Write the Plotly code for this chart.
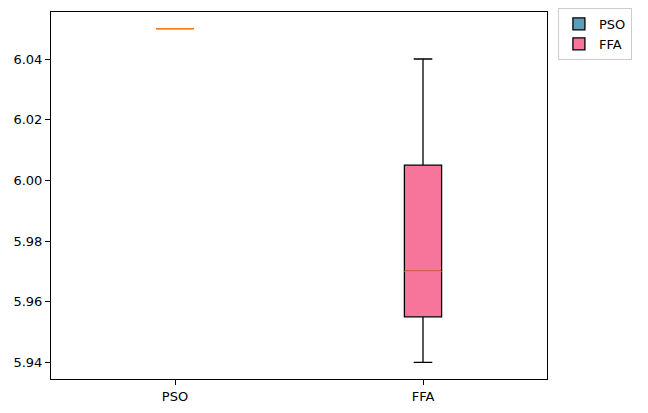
import plotly.graph_objects as go

# %% data
algorithms = ['PSO', 'FFA']
positions = [1, 2]
lower = [6.05, 5.94]
q1 = [6.05, 5.955]
median = [6.05, 5.97]
q3 = [6.05, 6.005]
upper = [6.05, 6.04]
colors = ['#5a9ebb', '#f7759a']
y_ticks = [5.94, 5.96, 5.98, 6.00, 6.02, 6.04]

box_width = 0.15

# %% figure
fig = go.Figure()
for i, name in enumerate(algorithms):
    fig.add_trace(go.Box(
        x=[positions[i]], name=name,
        lowerfence=[lower[i]], q1=[q1[i]], median=[median[i]],
        q3=[q3[i]], upperfence=[upper[i]],
        width=box_width, whiskerwidth=0.5,
        fillcolor=colors[i], line=dict(color='black', width=1.3),
        boxpoints=False, hoverinfo='skip',
    ))
for i, name in enumerate(algorithms):
    fig.add_trace(go.Scatter(
        x=[positions[i] - box_width / 2, positions[i] + box_width / 2],
        y=[median[i], median[i]], mode='lines',
        line=dict(color='#ff7f0e', width=1.3),
        showlegend=False, hoverinfo='skip',
    ))

axis_style = dict(showline=True, mirror=True, linecolor='black', linewidth=1,
                  ticks='outside', ticklen=5, tickcolor='black',
                  showgrid=False, zeroline=False, automargin=False,
                  tickfont=dict(size=13, color='black'))
fig.update_xaxes(range=[0.5, 2.5], tickvals=positions, ticktext=algorithms, **axis_style)
fig.update_yaxes(range=[5.9345, 6.0555], tickvals=y_ticks, tickformat='.2f', **axis_style)

# page body has an 8px default margin, so the figure is a bit smaller
fig.update_layout(
    width=640, height=405,
    margin=dict(l=43, r=101, t=4, b=34, autoexpand=False),
    plot_bgcolor='white', paper_bgcolor='white',
    font=dict(family='DejaVu Sans', size=13, color='black'),
    legend=dict(x=1.022, y=1.011, xanchor='left', yanchor='top',
                bordercolor='#cccccc', borderwidth=1, bgcolor='white',
                font=dict(size=13), tracegroupgap=2),
    showlegend=True,
)

fig.write_html('out.html')
